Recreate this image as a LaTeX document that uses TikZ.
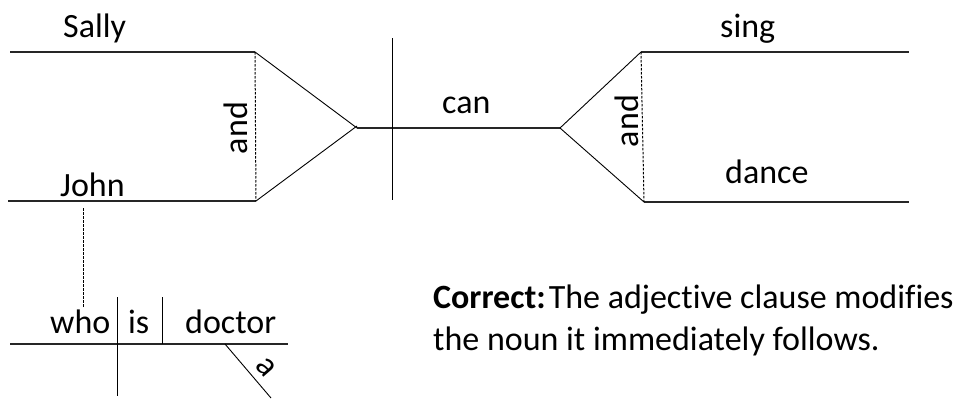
\documentclass[tikz,border=0pt]{standalone}
\usepackage{fontspec}
\setmainfont{Carlito}[Ligatures=CommonOff]
\begin{document}
\begin{tikzpicture}[x=1pt,y=-1pt,
  word/.style={inner sep=0pt,anchor=base west,font=\fontsize{34}{40}\selectfont},
  vword/.style={inner sep=0pt,anchor=base,rotate=90,font=\fontsize{34}{40}\selectfont},
  baseline/.style={line width=1.1pt,black!85},
  thin/.style={line width=0.9pt,black},
  dashline/.style={line width=1pt,black,dash pattern=on 2.5pt off 1.5pt}]
\useasboundingbox (0,0) rectangle (953,399);
% coordinates
\coordinate (s0) at (10,52);
\coordinate (s1) at (255,52);
\coordinate (j0) at (8,201);
\coordinate (j1) at (256,201);
\coordinate (la) at (357,128);
\coordinate (ra) at (560,128);
\coordinate (vt) at (392,38);
\coordinate (vb) at (392,200);
\coordinate (g0) at (641,52);
\coordinate (g1) at (909,52);
\coordinate (d0) at (644,202);
\coordinate (d1) at (909,202);
\coordinate (jd0) at (83,208);
\coordinate (jd1) at (83,308);
\coordinate (w0) at (10,344);
\coordinate (w1) at (288,344);
\coordinate (c1t) at (117,297);
\coordinate (c1b) at (117,396);
\coordinate (c2t) at (162,297);
\coordinate (c2b) at (162,344);
\coordinate (m0) at (225,344);
\coordinate (m1) at (271,398);
% left compound subject
\draw[baseline] (s0) -- (s1);
\draw[baseline] (j0) -- (j1);
\draw[dashline] (s1) -- (j1);
\draw[thin] (s1) -- (la);
\draw[thin] (j1) -- ([yshift=2pt]la);
% main line
\draw[baseline] (la) -- (ra);
\draw[thin] (vt) -- (vb);
% right compound verb
\draw[thin] (ra) -- (g0);
\draw[thin] (ra) -- (d0);
\draw[baseline] (g0) -- (g1);
\draw[baseline] (d0) -- (d1);
\draw[dashline] (g0) -- (d0);
% adjective clause
\draw[dashline] (jd0) -- (jd1);
\draw[baseline] (w0) -- (w1);
\draw[thin] (c1t) -- (c1b);
\draw[thin] (c2t) -- (c2b);
\draw[thin] (m0) -- (m1);
% words
\node[word] (sally) at (63,37) {Sally};
\node[word] (john) at (60,196) {John};
\node[word] (can) at (442,113) {can};
\node[word] (sing) at (720,37) {sing};
\node[word] (dance) at (725,183) {dance};
\node[vword] (and1) at (247,128) {and};
\node[vword] (and2) at (638,121) {and};
\node[word] (who) at (50,333) {who};
\node[word] (is) at (128,333) {is};
\node[word] (doctor) at (185,333) {doctor};
\node[inner sep=0pt,anchor=base,rotate=-49,font=\fontsize{34}{40}\selectfont] (a) at (260,373) {a};
\node[word] (note1) at (433,308) {\textbf{Correct:}\hspace{3pt}The adjective clause modifies};
\node[word] (note2) at (433,350) {the noun it immediately follows.};
\end{tikzpicture}
\end{document}
